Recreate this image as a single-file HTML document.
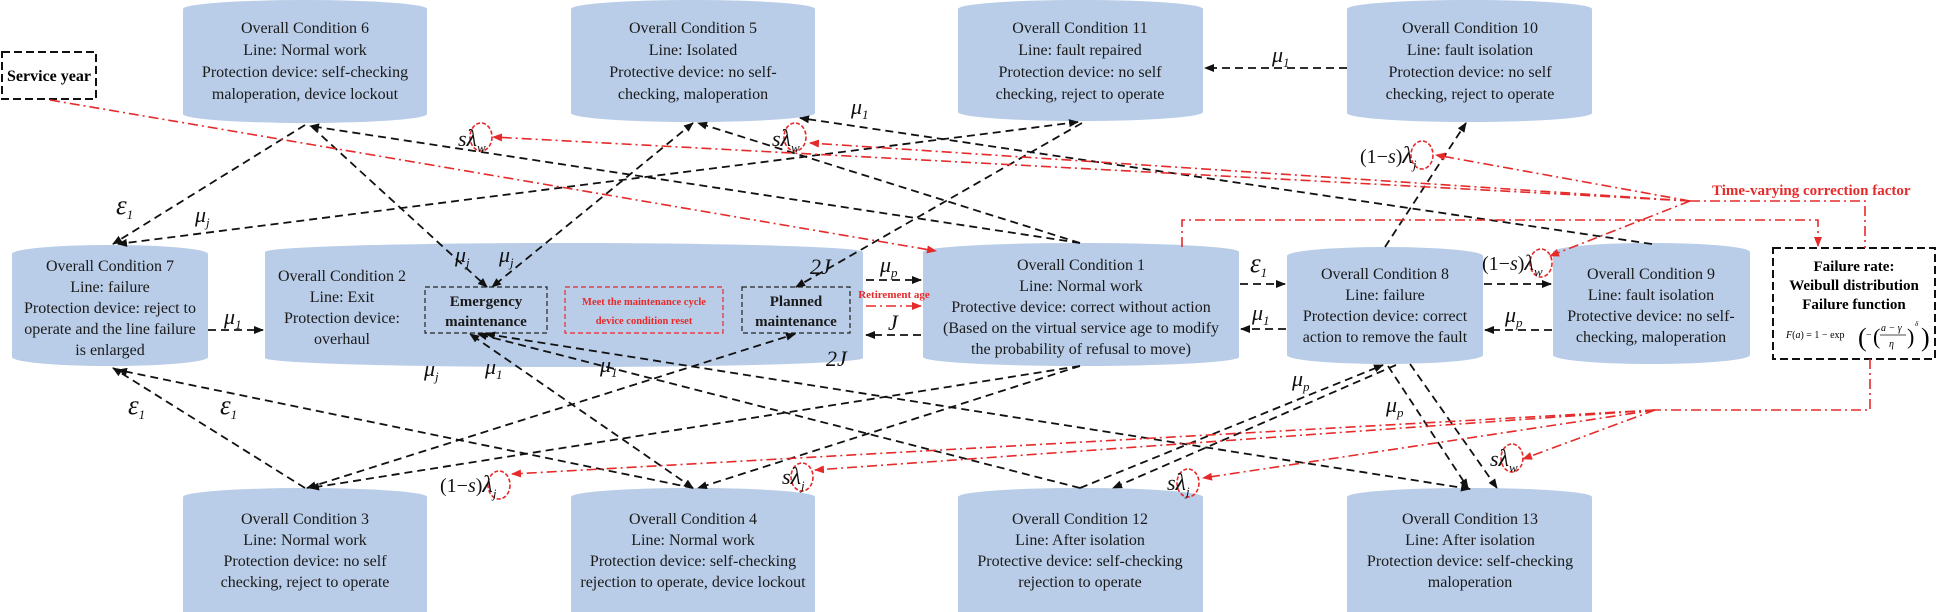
<!DOCTYPE html>
<html><head><meta charset="utf-8"><style>
html,body{margin:0;padding:0;background:#fff;}
svg{display:block;}
text{font-family:"Liberation Serif",serif;}
.t{font-size:16px;fill:#1a1a1a;text-anchor:middle;}
.g{font-size:22px;font-style:italic;fill:#111;}
.gs{font-size:13px;font-style:italic;}
.b{stroke:#111;stroke-width:1.8;stroke-dasharray:8 5;fill:none;}
.r{stroke:#e62a2a;stroke-width:1.6;stroke-dasharray:10 4 2 4;fill:none;}
.c{stroke:#e62a2a;stroke-width:1.6;stroke-dasharray:4 2;fill:none;}
</style></head><body>
<svg width="1937" height="612" viewBox="0 0 1937 612" xmlns="http://www.w3.org/2000/svg">
<defs>
<marker id="ab" markerWidth="10" markerHeight="8" refX="9" refY="4" orient="auto" markerUnits="userSpaceOnUse"><path d="M0,0 L10,4 L0,8 z" fill="#111"/></marker>
<marker id="as" markerWidth="10" markerHeight="8" refX="1" refY="4" orient="auto" markerUnits="userSpaceOnUse"><path d="M10,0 L0,4 L10,8 z" fill="#111"/></marker>
<marker id="ar" markerWidth="10" markerHeight="8" refX="9" refY="4" orient="auto" markerUnits="userSpaceOnUse"><path d="M0,0 L10,4 L0,8 z" fill="#e62a2a"/></marker>
</defs>
<g fill="#b9cde8">
<path d="M183 9 A122 9 0 0 1 427 9 L427 114 A122 9 0 0 1 183 114 Z"/>
<path d="M571 9 A122 9 0 0 1 815 9 L815 113 A122 9 0 0 1 571 113 Z"/>
<path d="M958 9 A122 9 0 0 1 1203 9 L1203 112 A122 9 0 0 1 958 112 Z"/>
<path d="M1347 9 A122 9 0 0 1 1592 9 L1592 113 A122 9 0 0 1 1347 113 Z"/>
<path d="M12 254 A98 9 0 0 1 208 254 L208 357 A98 9 0 0 1 12 357 Z"/>
<path d="M265 252 A299 9 0 0 1 863 252 L863 358 A299 9 0 0 1 265 358 Z"/>
<path d="M923 252 A158 9 0 0 1 1239 252 L1239 357 A158 9 0 0 1 923 357 Z"/>
<path d="M1287 256 A98 9 0 0 1 1483 256 L1483 355 A98 9 0 0 1 1287 355 Z"/>
<path d="M1553 252 A98 9 0 0 1 1750 252 L1750 355 A98 9 0 0 1 1553 355 Z"/>
<path d="M183 497 A122 9 0 0 1 427 497 L427 630 L183 630 Z"/>
<path d="M571 497 A122 9 0 0 1 815 497 L815 630 L571 630 Z"/>
<path d="M958 497 A122 9 0 0 1 1203 497 L1203 630 L958 630 Z"/>
<path d="M1347 497 A122 9 0 0 1 1592 497 L1592 630 L1347 630 Z"/>
</g>

<rect x="2" y="52" width="94" height="47" fill="none" stroke="#111" stroke-width="2" stroke-dasharray="8 4"/>
<text x="49" y="81" style="font-size:16px;font-weight:bold;text-anchor:middle">Service year</text>
<rect x="425" y="287" width="122" height="46" fill="none" stroke="#222" stroke-width="1.2" stroke-dasharray="5 3"/>
<text class="t" x="486" y="306" style="font-weight:bold;font-size:15px">Emergency</text>
<text class="t" x="486" y="326" style="font-weight:bold;font-size:15px">maintenance</text>
<rect x="565" y="287" width="158" height="46" fill="none" stroke="#e62a2a" stroke-width="1.2" stroke-dasharray="5 3"/>
<text x="644" y="305" style="font-size:10.5px;font-weight:bold;fill:#e62a2a;text-anchor:middle">Meet the maintenance cycle</text>
<text x="644" y="324" style="font-size:10.5px;font-weight:bold;fill:#e62a2a;text-anchor:middle">device condition reset</text>
<rect x="742" y="287" width="108" height="46" fill="none" stroke="#222" stroke-width="1.2" stroke-dasharray="5 3"/>
<text class="t" x="796" y="306" style="font-weight:bold;font-size:15px">Planned</text>
<text class="t" x="796" y="326" style="font-weight:bold;font-size:15px">maintenance</text>
<rect x="1773" y="248" width="162" height="111" fill="none" stroke="#111" stroke-width="2" stroke-dasharray="8 4"/>
<text x="1854" y="271" style="font-size:15px;font-weight:bold;text-anchor:middle">Failure rate:</text>
<text x="1854" y="290" style="font-size:15px;font-weight:bold;text-anchor:middle">Weibull distribution</text>
<text x="1854" y="309" style="font-size:15px;font-weight:bold;text-anchor:middle">Failure function</text>
<text x="1786" y="338" style="font-size:10px"><tspan font-style="italic">F</tspan>(<tspan font-style="italic">a</tspan>) = 1 − exp</text>
<text x="1858" y="346" style="font-size:26px">(</text>
<text x="1866" y="338" style="font-size:10px">−</text>
<text x="1873" y="344" style="font-size:22px">(</text>
<text x="1881" y="331" style="font-size:10px;font-style:italic">a − γ</text>
<line x1="1880" y1="335" x2="1906" y2="335" stroke="#111" stroke-width="0.8"/>
<text x="1889" y="347" style="font-size:10px;font-style:italic">η</text>
<text x="1907" y="344" style="font-size:22px">)</text>
<text x="1915" y="326" style="font-size:7px;font-style:italic">δ</text>
<text x="1921" y="346" style="font-size:26px">)</text>

<g class="t">
<text x="305" y="33">Overall Condition 6</text><text x="305" y="55">Line: Normal work</text><text x="305" y="77">Protection device: self-checking</text><text x="305" y="99">maloperation, device lockout</text>
<text x="693" y="33">Overall Condition 5</text><text x="693" y="55">Line: Isolated</text><text x="693" y="77">Protective device: no self-</text><text x="693" y="99">checking,  maloperation</text>
<text x="1080" y="33">Overall Condition 11</text><text x="1080" y="55">Line: fault repaired</text><text x="1080" y="77">Protection device: no self</text><text x="1080" y="99">checking, reject to operate</text>
<text x="1470" y="33">Overall Condition 10</text><text x="1470" y="55">Line: fault isolation</text><text x="1470" y="77">Protection device: no self</text><text x="1470" y="99">checking, reject to operate</text>
<text x="110" y="271">Overall Condition 7</text><text x="110" y="292">Line: failure</text><text x="110" y="313">Protection device: reject to</text><text x="110" y="334">operate and the line failure</text><text x="110" y="355">is enlarged</text>
<text x="342" y="281">Overall Condition 2</text><text x="342" y="302">Line: Exit</text><text x="342" y="323">Protection device:</text><text x="342" y="344">overhaul</text>
<text x="1081" y="270">Overall Condition 1</text><text x="1081" y="291">Line: Normal work</text><text x="1081" y="312">Protective device: correct without action</text><text x="1081" y="333">(Based on the virtual service age to modify</text><text x="1081" y="354">the probability of refusal to move)</text>
<text x="1385" y="279">Overall Condition 8</text><text x="1385" y="300">Line: failure</text><text x="1385" y="321">Protection device: correct</text><text x="1385" y="342">action to remove the fault</text>
<text x="1651" y="279">Overall Condition 9</text><text x="1651" y="300">Line: fault isolation</text><text x="1651" y="321">Protective device: no self-</text><text x="1651" y="342">checking,  maloperation</text>
<text x="305" y="524">Overall Condition 3</text><text x="305" y="545">Line: Normal work</text><text x="305" y="566">Protection device: no self</text><text x="305" y="587">checking, reject to operate</text>
<text x="693" y="524">Overall Condition 4</text><text x="693" y="545">Line: Normal work</text><text x="693" y="566">Protection device: self-checking</text><text x="693" y="587">rejection to operate, device lockout</text>
<text x="1080" y="524">Overall Condition 12</text><text x="1080" y="545">Line: After isolation</text><text x="1080" y="566">Protective device: self-checking</text><text x="1080" y="587">rejection to operate</text>
<text x="1470" y="524">Overall Condition 13</text><text x="1470" y="545">Line: After isolation</text><text x="1470" y="566">Protection device: self-checking</text><text x="1470" y="587">maloperation</text>
</g>

<g class="b">
<line x1="305" y1="125" x2="113" y2="244" marker-end="url(#ab)"/>
<line x1="1080" y1="243" x2="310" y2="126" marker-end="url(#ab)"/>
<line x1="312" y1="127" x2="487" y2="287" marker-end="url(#ab)"/>
<line x1="693" y1="123" x2="492" y2="287" marker-start="url(#as)" marker-end="url(#ab)"/>
<line x1="1080" y1="243" x2="698" y2="123" marker-end="url(#ab)"/>
<line x1="1652" y1="244" x2="800" y2="118" marker-end="url(#ab)"/>
<line x1="1078" y1="122" x2="118" y2="244" marker-start="url(#as)" marker-end="url(#ab)"/>
<line x1="1082" y1="123" x2="796" y2="287" marker-end="url(#ab)"/>
<line x1="1347" y1="68" x2="1205" y2="68" marker-end="url(#ab)"/>
<line x1="1385" y1="247" x2="1466" y2="123" marker-end="url(#ab)"/>
<line x1="208" y1="330" x2="263" y2="330" marker-end="url(#ab)"/>
<line x1="866" y1="280" x2="921" y2="280" marker-end="url(#ab)"/>
<line x1="921" y1="335" x2="866" y2="335" marker-end="url(#ab)"/>
<line x1="1240" y1="284" x2="1285" y2="284" marker-end="url(#ab)"/>
<line x1="1286" y1="329" x2="1241" y2="329" marker-end="url(#ab)"/>
<line x1="1484" y1="284" x2="1551" y2="284" marker-end="url(#ab)"/>
<line x1="1552" y1="330" x2="1485" y2="330" marker-end="url(#ab)"/>
<line x1="305" y1="488" x2="113" y2="368" marker-end="url(#ab)"/>
<line x1="693" y1="488" x2="118" y2="370" marker-end="url(#ab)"/>
<line x1="307" y1="488" x2="795" y2="334" marker-start="url(#as)" marker-end="url(#ab)"/>
<line x1="1080" y1="366" x2="310" y2="488" marker-end="url(#ab)"/>
<line x1="693" y1="488" x2="470" y2="334" marker-start="url(#as)" marker-end="url(#ab)"/>
<line x1="1080" y1="366" x2="698" y2="488" marker-end="url(#ab)"/>
<line x1="1080" y1="488" x2="478" y2="334" marker-end="url(#ab)"/>
<line x1="1470" y1="489" x2="486" y2="334" marker-start="url(#as)" marker-end="url(#ab)"/>
<line x1="1080" y1="488" x2="1383" y2="365" marker-end="url(#ab)"/>
<line x1="1396" y1="365" x2="1113" y2="488" marker-end="url(#ab)"/>
<line x1="1388" y1="366" x2="1468" y2="488" marker-end="url(#ab)"/>
<line x1="1410" y1="364" x2="1497" y2="488" marker-end="url(#ab)"/>
</g>

<g class="r">
<line x1="50" y1="100" x2="936" y2="251" marker-end="url(#ar)"/>
<line x1="866" y1="306" x2="921" y2="306" marker-end="url(#ar)"/>
<polyline points="1182,247 1182,220 1818,220 1818,246" marker-end="url(#ar)"/>
<polyline points="1690,201 1865,201 1865,248"/>
<line x1="1690" y1="201" x2="493" y2="137" marker-end="url(#ar)"/>
<line x1="1690" y1="201" x2="810" y2="143" marker-end="url(#ar)"/>
<line x1="1690" y1="201" x2="1436" y2="155" marker-end="url(#ar)"/>
<line x1="1690" y1="201" x2="1550" y2="256" marker-end="url(#ar)"/>
<polyline points="1870,359 1870,410 1655,410"/>
<line x1="1655" y1="410" x2="512" y2="474" marker-end="url(#ar)"/>
<line x1="1655" y1="410" x2="815" y2="470" marker-end="url(#ar)"/>
<line x1="1655" y1="410" x2="1203" y2="478" marker-end="url(#ar)"/>
<line x1="1655" y1="410" x2="1523" y2="459" marker-end="url(#ar)"/>
</g>
<text x="1712" y="195" style="font-size:15px;font-weight:bold;fill:#e62a2a">Time-varying correction factor</text>
<text x="894" y="298" style="font-size:11px;font-weight:bold;fill:#e62a2a;text-anchor:middle">Retirement age</text>

<g class="c">
<ellipse cx="481" cy="137" rx="11" ry="14"/>
<ellipse cx="795" cy="137" rx="11" ry="14"/>
<ellipse cx="1422" cy="155" rx="11" ry="14"/>
<ellipse cx="1541" cy="263" rx="11" ry="14"/>
<ellipse cx="499" cy="485" rx="11" ry="14"/>
<ellipse cx="802" cy="477" rx="11" ry="14"/>
<ellipse cx="1188" cy="483" rx="11" ry="14"/>
<ellipse cx="1512" cy="458" rx="11" ry="14"/>
</g>

<g class="g">
<text x="458" y="146">s<tspan font-size="24">λ</tspan><tspan class="gs" dy="6">w</tspan></text>
<text x="772" y="146">s<tspan font-size="24">λ</tspan><tspan class="gs" dy="6">w</tspan></text>
<text x="851" y="114">μ<tspan class="gs" dy="5" font-style="normal">1</tspan></text>
<text x="1272" y="62">μ<tspan class="gs" dy="5" font-style="normal">1</tspan></text>
<text x="1360" y="163" font-size="20" font-style="normal">(1−<tspan font-style="italic">s</tspan>)<tspan font-size="24" font-style="italic">λ</tspan><tspan class="gs" dy="6">j</tspan></text>
<text x="1482" y="270" font-size="20" font-style="normal">(1−<tspan font-style="italic">s</tspan>)<tspan font-size="22" font-style="italic">λ</tspan><tspan class="gs" dy="6">w</tspan></text>
<text x="116" y="214" font-size="27">ε<tspan class="gs" font-size="15" dy="5" font-style="normal">1</tspan></text>
<text x="195" y="222">μ<tspan class="gs" dy="5">j</tspan></text>
<text x="455" y="262">μ<tspan class="gs" dy="5">j</tspan></text>
<text x="499" y="262">μ<tspan class="gs" dy="5">j</tspan></text>
<text x="224" y="324">μ<tspan class="gs" dy="5" font-style="normal">1</tspan></text>
<text x="810" y="274">2J</text>
<text x="880" y="272">μ<tspan class="gs" dy="5">p</tspan></text>
<text x="888" y="330">J</text>
<text x="826" y="366">2J</text>
<text x="1250" y="272" font-size="27">ε<tspan class="gs" font-size="15" dy="5" font-style="normal">1</tspan></text>
<text x="1252" y="320">μ<tspan class="gs" dy="5" font-style="normal">1</tspan></text>
<text x="1505" y="322">μ<tspan class="gs" dy="5">p</tspan></text>
<text x="128" y="414" font-size="27">ε<tspan class="gs" font-size="15" dy="5" font-style="normal">1</tspan></text>
<text x="220" y="414" font-size="27">ε<tspan class="gs" font-size="15" dy="5" font-style="normal">1</tspan></text>
<text x="424" y="376">μ<tspan class="gs" dy="5">j</tspan></text>
<text x="485" y="374">μ<tspan class="gs" dy="5" font-style="normal">1</tspan></text>
<text x="600" y="372">μ<tspan class="gs" dy="5" font-style="normal">1</tspan></text>
<text x="1292" y="386">μ<tspan class="gs" dy="5">p</tspan></text>
<text x="1386" y="412">μ<tspan class="gs" dy="5">p</tspan></text>
<text x="440" y="492" font-size="20" font-style="normal">(1−<tspan font-style="italic">s</tspan>)<tspan font-size="24" font-style="italic">λ</tspan><tspan class="gs" dy="6">j</tspan></text>
<text x="782" y="484">s<tspan font-size="24">λ</tspan><tspan class="gs" dy="6">j</tspan></text>
<text x="1167" y="490">s<tspan font-size="24">λ</tspan><tspan class="gs" dy="6">j</tspan></text>
<text x="1490" y="466">s<tspan font-size="24">λ</tspan><tspan class="gs" dy="6">w</tspan></text>
</g>
</svg>
</body></html>
